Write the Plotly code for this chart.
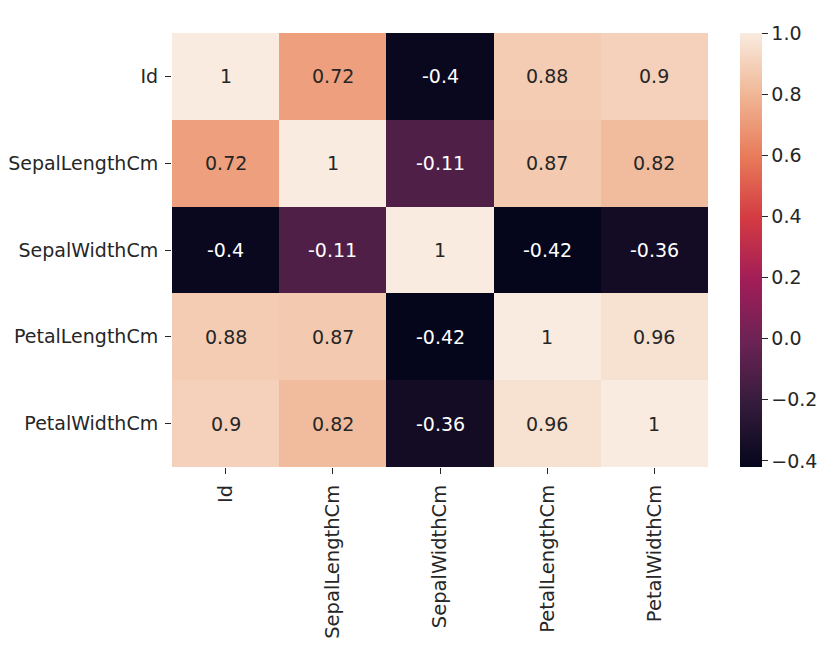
import plotly.graph_objects as go

labels = ["Id", "SepalLengthCm", "SepalWidthCm", "PetalLengthCm", "PetalWidthCm"]
corr = [
    [1.00, 0.72, -0.40, 0.88, 0.90],
    [0.72, 1.00, -0.11, 0.87, 0.82],
    [-0.40, -0.11, 1.00, -0.42, -0.36],
    [0.88, 0.87, -0.42, 1.00, 0.96],
    [0.90, 0.82, -0.36, 0.96, 1.00],
]
cbar_ticks = [-0.4, -0.2, 0.0, 0.2, 0.4, 0.6, 0.8, 1.0]

rocket = [
    [0.0, "rgb(5,6,27)"],
    [0.143, "rgb(51,27,59)"],
    [0.286, "rgb(106,35,84)"],
    [0.429, "rgb(161,29,88)"],
    [0.571, "rgb(211,58,66)"],
    [0.714, "rgb(232,122,89)"],
    [0.857, "rgb(240,182,149)"],
    [1.0, "rgb(249,235,223)"],
]

zmin, zmax = -0.42, 1.0
FONT = "DejaVu Sans"
TXT = "#262626"
FS = 19
FSX = 19.5

fig = go.Figure(go.Heatmap(
    z=corr, x=labels, y=labels, zmin=zmin, zmax=zmax, colorscale=rocket,
    xgap=0, ygap=0,
    colorbar=dict(
        x=(740 - 172) / 536, xanchor="left", xref="paper", xpad=0,
        y=0.5, yanchor="middle", ypad=0,
        len=1.0, lenmode="fraction", thickness=22, thicknessmode="pixels",
        outlinewidth=0, tickvals=cbar_ticks,
        ticktext=[("\u2212" if v < 0 else "") + f"{abs(v):.1f}" for v in cbar_ticks],
        ticks="outside", ticklen=6, tickwidth=1.3, tickcolor=TXT,
        tickfont=dict(family=FONT, size=FS, color=TXT),
    ),
    hoverinfo="skip",
))

def fmt(v):
    return f"{v:.2f}".rstrip("0").rstrip(".")

annotations = []
for i, row in enumerate(corr):
    for j, v in enumerate(row):
        frac = (v - zmin) / (zmax - zmin)
        color = "white" if frac < 0.45 else TXT
        annotations.append(dict(
            x=labels[j], y=labels[i], text=fmt(v), showarrow=False,
            font=dict(family=FONT, size=FS, color=color),
        ))

fig.update_layout(
    width=830, height=644,
    margin=dict(l=164, r=130, t=25, b=185, autoexpand=False),
    paper_bgcolor="white", plot_bgcolor="white",
    annotations=annotations,
    font=dict(family=FONT, color=TXT),
)
fig.update_xaxes(
    tickangle=-90, ticks="outside", ticklen=6, tickwidth=1.3, tickcolor=TXT,
    ticklabelstandoff=3,
    tickfont=dict(family=FONT, size=FSX, color=TXT), automargin=False,
    showgrid=False, zeroline=False, showline=False,
)
fig.update_yaxes(
    autorange="reversed", ticks="outside", ticklen=6, tickwidth=1.3, tickcolor=TXT,
    ticklabelstandoff=3,
    tickfont=dict(family=FONT, size=FS, color=TXT), automargin=False,
    showgrid=False, zeroline=False, showline=False,
)

fig.write_html("out.html")
